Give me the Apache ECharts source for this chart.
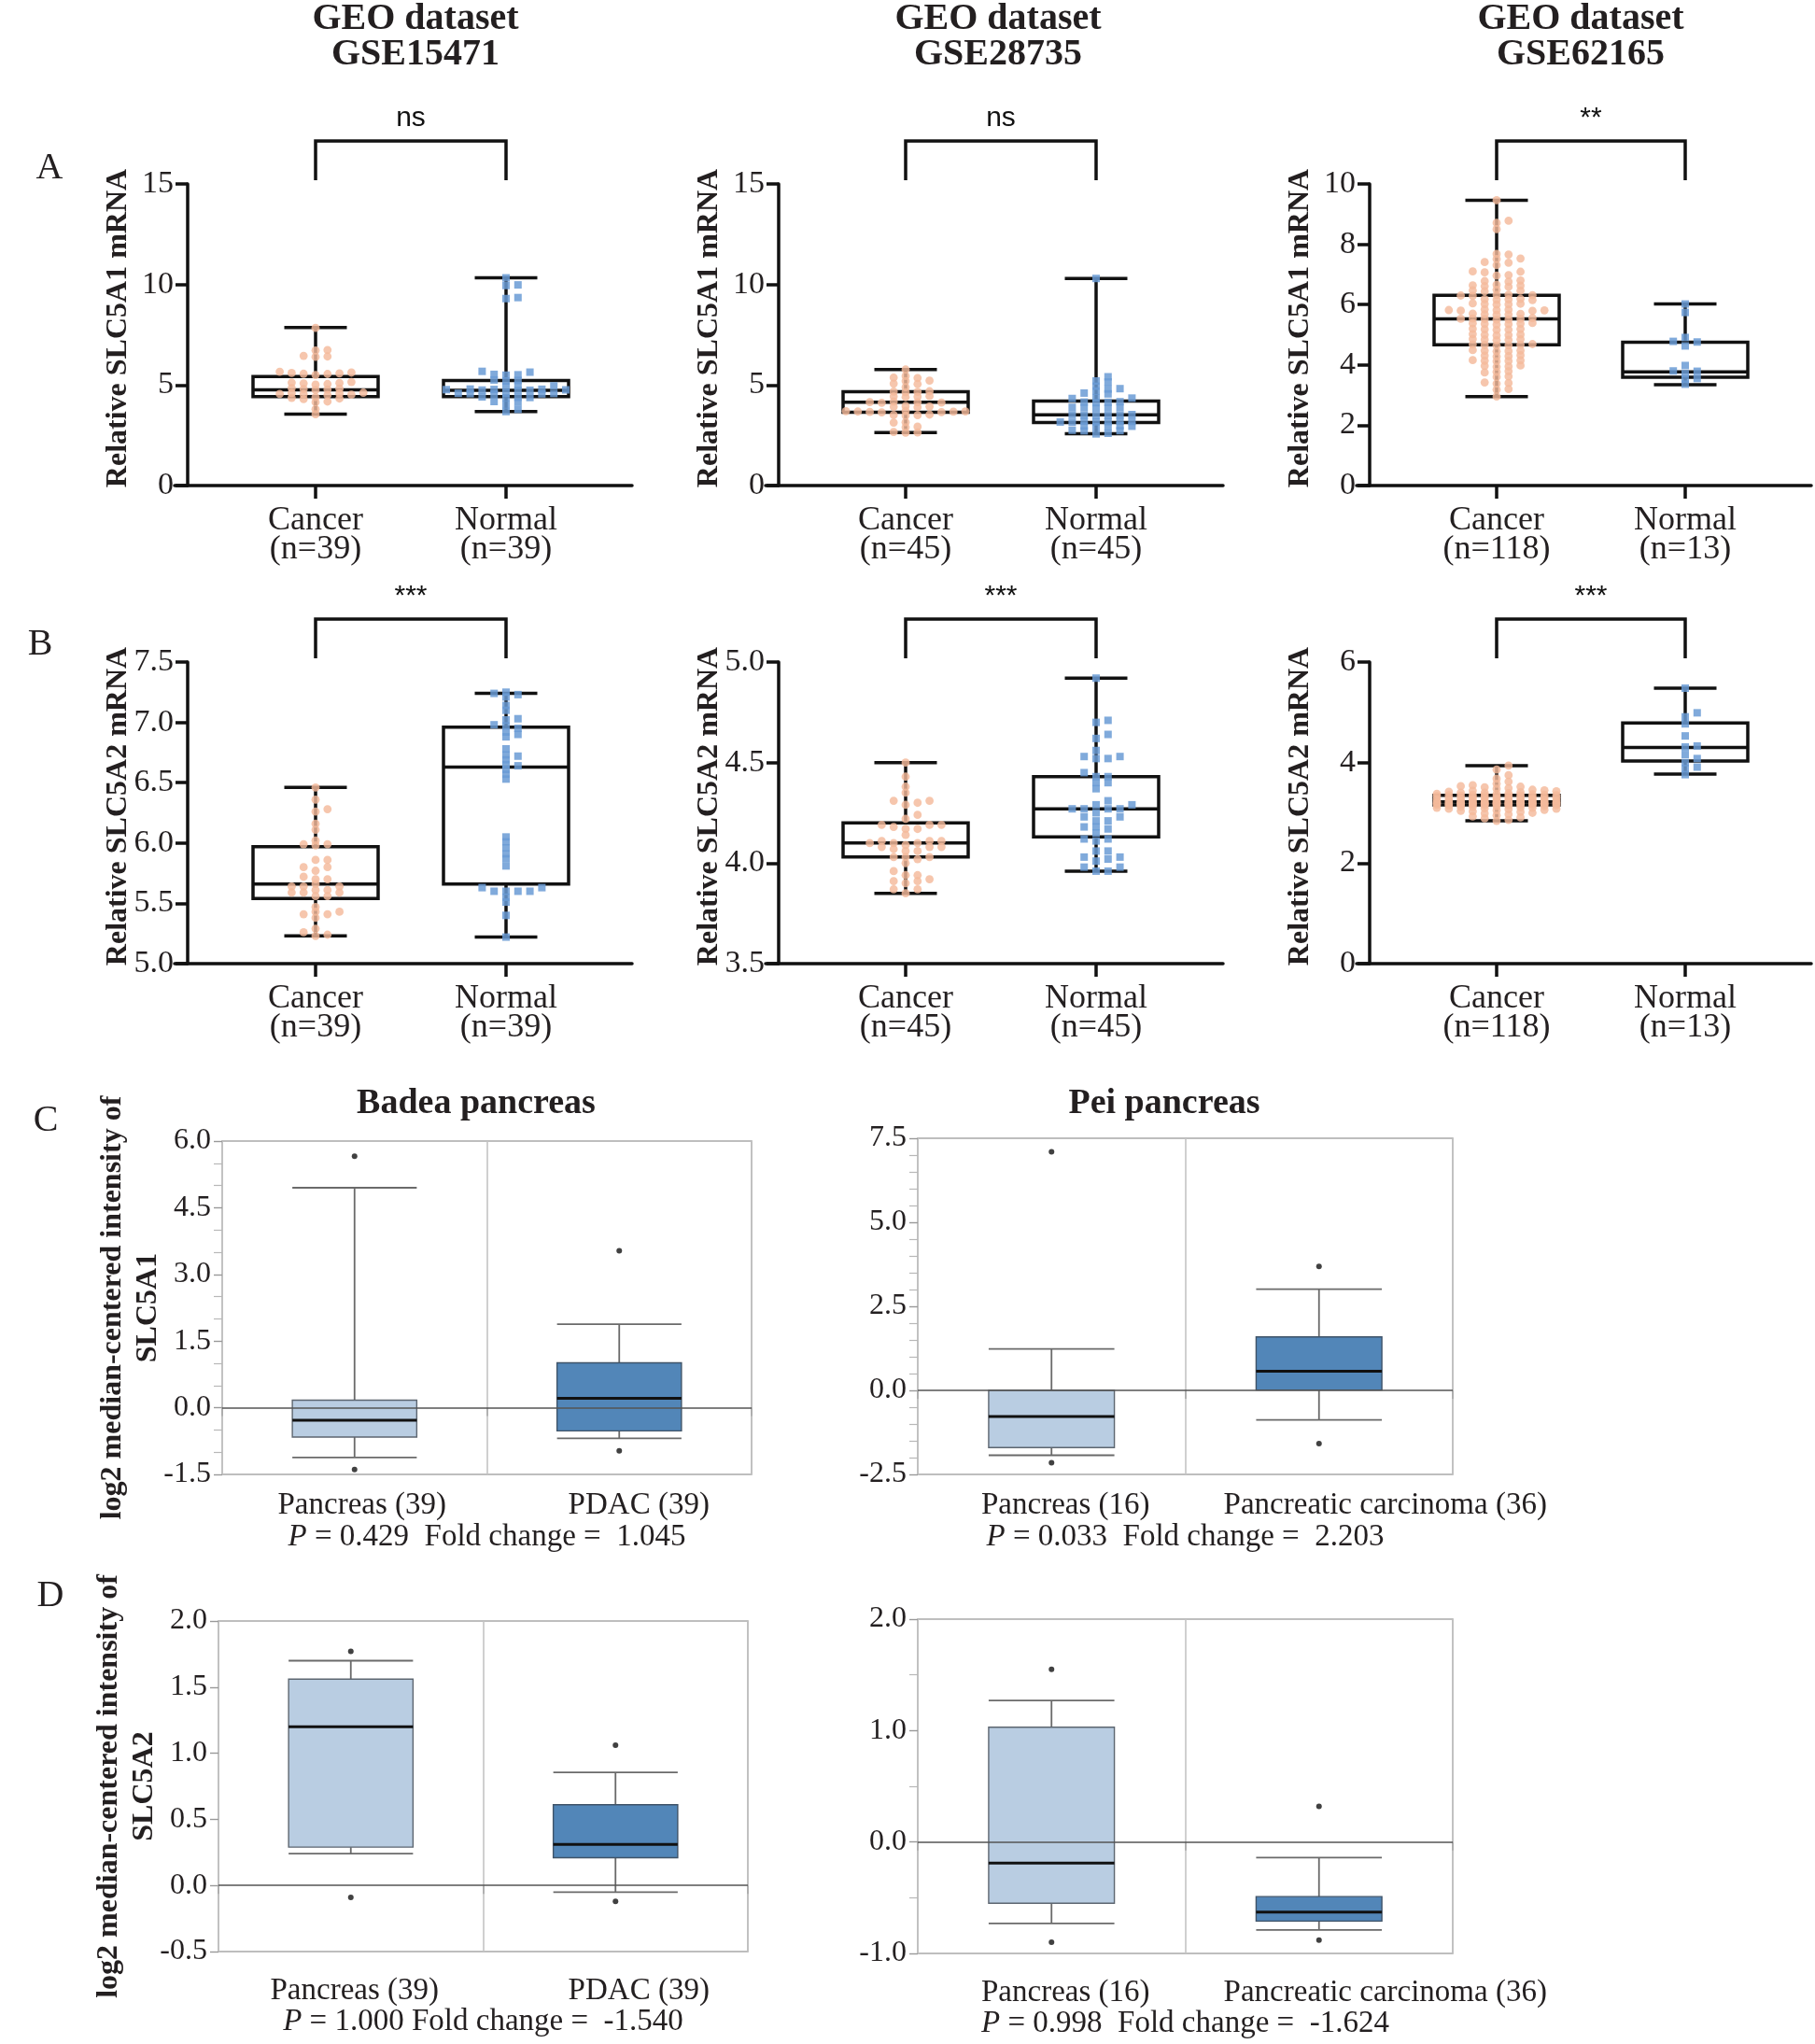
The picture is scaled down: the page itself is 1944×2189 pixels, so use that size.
<!DOCTYPE html>
<html>
<head>
<meta charset="utf-8">
<script src="https://cdn.jsdelivr.net/npm/echarts@6/dist/echarts.min.js"></script>
<style>
html,body{margin:0;padding:0;background:#fff;}
#chart{width:1944px;height:2189px;}
</style>
</head>
<body>
<div id="chart"></div>
<script>
// ---------------- DATA ----------------
const datasets = ['GSE15471', 'GSE28735', 'GSE62165'];
const groups = ['Cancer', 'Normal'];
const groupCounts = [[39, 39], [45, 45], [118, 13]];
const geneNames = ['SLC5A1', 'SLC5A2'];
const sigA = ['ns', 'ns', '**'];
const sigB = ['***', '***', '***'];

// Row A: SLC5A1 (GEO)
const a1Cancer = [7.84, 6.74, 6.72, 6.45, 6.42, 6.40, 5.66, 5.62, 5.60, 5.58, 5.56, 5.55, 5.50, 5.15, 5.12, 5.10, 5.08, 5.05, 5.02, 4.85, 4.82, 4.80, 4.78, 4.75, 4.62, 4.60, 4.58, 4.56, 4.55, 4.52, 4.50, 4.40, 4.36, 4.33, 4.30, 4.18, 4.15, 3.80, 3.55];
const a1Normal = [10.33, 9.98, 9.95, 9.35, 9.30, 5.68, 5.64, 5.53, 5.51, 5.49, 5.25, 5.23, 5.20, 4.98, 4.96, 4.93, 4.80, 4.79, 4.78, 4.77, 4.76, 4.75, 4.74, 4.73, 4.60, 4.59, 4.58, 4.57, 4.56, 4.55, 4.41, 4.39, 4.38, 4.36, 4.18, 4.15, 4.02, 3.79, 3.68];
const a1CancerBox = [3.55, 4.42, 4.76, 5.42, 7.86];
const a1NormalBox = [3.68, 4.42, 4.74, 5.22, 10.33];

const a2Cancer = [5.77, 5.45, 5.37, 5.35, 5.22, 5.20, 5.07, 5.05, 4.89, 4.69, 4.67, 4.66, 4.64, 4.45, 4.43, 4.42, 4.40, 4.17, 4.15, 4.14, 4.13, 4.12, 3.95, 3.93, 3.92, 3.90, 3.71, 3.70, 3.69, 3.68, 3.67, 3.66, 3.65, 3.64, 3.53, 3.51, 3.50, 3.48, 3.15, 3.13, 2.93, 2.90, 2.66, 2.64, 2.63];
const a2Normal = [10.30, 5.41, 5.20, 5.15, 4.94, 4.82, 4.80, 4.70, 4.60, 4.56, 4.37, 4.35, 4.33, 4.17, 4.15, 4.14, 4.12, 3.89, 3.88, 3.87, 3.86, 3.85, 3.53, 3.52, 3.51, 3.50, 3.49, 3.48, 3.21, 3.20, 3.19, 3.18, 3.17, 3.16, 3.15, 2.97, 2.96, 2.95, 2.94, 2.93, 2.75, 2.73, 2.72, 2.60, 2.57];
const a2CancerBox = [2.64, 3.65, 4.15, 4.67, 5.77];
const a2NormalBox = [2.58, 3.14, 3.52, 4.20, 10.30];

const a3Cancer = [9.46, 8.78, 8.71, 8.50, 7.68, 7.66, 7.53, 7.51, 7.41, 7.39, 7.31, 7.10, 7.09, 7.07,
  6.98, 6.96, 6.80, 6.78, 6.76, 6.66, 6.64, 6.63, 6.61, 6.59, 6.49, 6.47, 6.46, 6.44,
  6.33, 6.32, 6.31, 6.30, 6.29, 6.19, 6.18, 6.17, 6.16, 6.15, 6.04, 6.03, 6.02, 6.01, 6.00,
  5.84, 5.83, 5.82, 5.82, 5.81, 5.80, 5.79, 5.70, 5.69, 5.68, 5.67, 5.66,
  5.55, 5.54, 5.53, 5.53, 5.52, 5.51, 5.50, 5.39, 5.38, 5.37, 5.36, 5.35, 5.34,
  5.20, 5.19, 5.18, 5.17, 5.16, 5.02, 5.01, 5.00, 4.99, 4.98, 4.86, 4.85, 4.84, 4.83, 4.82,
  4.69, 4.68, 4.67, 4.66, 4.65, 4.64, 4.49, 4.48, 4.47, 4.46, 4.45, 4.32, 4.31, 4.29, 4.28,
  4.16, 4.15, 4.14, 4.13, 4.12, 3.98, 3.97, 3.95, 3.94, 3.79, 3.77, 3.75, 3.62, 3.60,
  3.42, 3.40, 3.38, 3.20, 3.18, 2.95];
const a3Normal = [6.02, 5.74, 4.91, 4.78, 4.76, 4.63, 3.98, 3.80, 3.79, 3.71, 3.55, 3.53, 3.36];
const a3CancerBox = [2.95, 4.67, 5.53, 6.31, 9.46];
const a3NormalBox = [3.34, 3.59, 3.77, 4.75, 6.02];

// Row B: SLC5A2 (GEO)
const b1Cancer = [6.46, 6.36, 6.28, 6.26, 6.16, 6.11, 6.02, 5.99, 5.99, 5.98, 5.86, 5.86, 5.80, 5.80, 5.77, 5.72, 5.70, 5.70, 5.66, 5.64, 5.64, 5.64, 5.61, 5.61, 5.59, 5.59, 5.59, 5.56, 5.56, 5.47, 5.43, 5.43, 5.41, 5.41, 5.38, 5.29, 5.26, 5.24, 5.23];
const b1Normal = [7.25, 7.24, 7.23, 7.21, 7.14, 7.10, 7.03, 7.02, 6.98, 6.97, 6.95, 6.92, 6.90, 6.88, 6.78, 6.73, 6.72, 6.69, 6.65, 6.64, 6.61, 6.57, 6.53,
  6.05, 6.01, 5.96, 5.91, 5.87, 5.81, 5.63, 5.63, 5.60, 5.60, 5.60, 5.60, 5.55, 5.51, 5.40, 5.22];
const b1CancerBox = [5.23, 5.54, 5.66, 5.97, 6.46];
const b1NormalBox = [5.22, 5.66, 6.63, 6.96, 7.24];

const b2Cancer = [4.50, 4.43, 4.38, 4.35, 4.31, 4.31, 4.30, 4.29, 4.24, 4.22, 4.19, 4.19, 4.19, 4.18, 4.17, 4.17, 4.14, 4.11, 4.11, 4.11, 4.10, 4.10, 4.10, 4.09, 4.08, 4.08, 4.08, 4.07, 4.06, 4.06, 4.03, 4.03, 4.03, 4.02, 4.00, 3.96, 3.94, 3.94, 3.92, 3.91, 3.91, 3.90, 3.87, 3.87, 3.85];
const b2Normal = [4.92, 4.71, 4.70, 4.64, 4.62, 4.56, 4.53, 4.53, 4.52, 4.52, 4.45, 4.43, 4.43, 4.40, 4.40, 4.37, 4.31, 4.29, 4.29, 4.27, 4.27, 4.27, 4.27, 4.25, 4.23, 4.23, 4.21, 4.21, 4.18, 4.18, 4.17, 4.15, 4.12, 4.12, 4.11, 4.06, 4.06, 4.03, 4.03, 4.02, 4.01, 3.98, 3.98, 3.96, 3.96];
const b2CancerBox = [3.85, 4.03, 4.10, 4.20, 4.50];
const b2NormalBox = [3.96, 4.13, 4.27, 4.43, 4.92];

const b3Cancer = [3.94, 3.86, 3.75, 3.68, 3.62, 3.58, 3.55, 3.53, 3.52, 3.51,
  3.49, 3.48, 3.46, 3.45, 3.44, 3.43, 3.42, 3.41, 3.40, 3.40,
  3.39, 3.38, 3.38, 3.37, 3.36, 3.36, 3.35, 3.35, 3.35, 3.35,
  3.34, 3.34, 3.33, 3.33, 3.32, 3.32, 3.31, 3.31, 3.30, 3.30,
  3.29, 3.29, 3.28, 3.28, 3.27, 3.27, 3.27, 3.26, 3.26, 3.25,
  3.25, 3.25, 3.24, 3.24, 3.23, 3.23, 3.23, 3.22, 3.22, 3.22,
  3.21, 3.21, 3.21, 3.21, 3.20, 3.20, 3.20, 3.20, 3.20, 3.19,
  3.19, 3.19, 3.19, 3.19, 3.18, 3.18, 3.18, 3.18, 3.18, 3.17,
  3.17, 3.17, 3.17, 3.17, 3.16, 3.16, 3.16, 3.16, 3.16, 3.15,
  3.15, 3.14, 3.14, 3.13, 3.13, 3.12, 3.12, 3.11, 3.10, 3.10,
  3.09, 3.08, 3.08, 3.07, 3.06, 3.05, 3.04, 3.03, 3.02, 3.00,
  2.99, 2.97, 2.95, 2.93, 2.91, 2.89, 2.86, 2.84];
const b3Normal = [5.48, 4.99, 4.91, 4.77, 4.53, 4.33, 4.31, 4.16, 4.08, 4.00, 3.91, 3.88, 3.76];
const b3CancerBox = [2.84, 3.16, 3.22, 3.35, 3.94];
const b3NormalBox = [3.77, 4.03, 4.30, 4.79, 5.48];

// y-axis ranges [min, max, interval]
const rangesA = [[0, 15, 5], [0, 15, 5], [0, 10, 2]];
const rangesB = [[5, 7.5, 0.5], [3.5, 5, 0.5], [0, 6, 2]];

// Rows C / D: Oncomine (box: [min, Q1, median, Q3, max])
const oncoTitles = ['Badea pancreas', 'Pei pancreas'];
const badeaLabels = ['Pancreas (39)', 'PDAC (39)'];
const peiLabels = ['Pancreas (16)', 'Pancreatic carcinoma (36)'];
const c1Pancreas = [-1.12, -0.66, -0.28, 0.17, 4.95];
const c1PancreasOut = [5.66, -1.39];
const c1Pdac = [-0.69, -0.52, 0.21, 1.01, 1.88];
const c1PdacOut = [3.53, -0.97];
const c2Pancreas = [-1.93, -1.70, -0.78, 0.00, 1.23];
const c2PancreasOut = [7.10, -2.15];
const c2Carcinoma = [-0.88, 0.01, 0.57, 1.59, 3.01];
const c2CarcinomaOut = [3.69, -1.58];
const d1Pancreas = [0.24, 0.29, 1.20, 1.56, 1.70];
const d1PancreasOut = [1.77, -0.09];
const d1Pdac = [-0.05, 0.21, 0.31, 0.61, 0.855];
const d1PdacOut = [1.06, -0.12];
const d2Pancreas = [-0.73, -0.55, -0.19, 1.03, 1.27];
const d2PancreasOut = [1.55, -0.90];
const d2Carcinoma = [-0.79, -0.71, -0.63, -0.49, -0.14];
const d2CarcinomaOut = [0.32, -0.88];
const statC1 = ['0.429', '1.045', '  '];
const statC2 = ['0.033', '2.203', '  '];
const statD1 = ['1.000', '-1.540', ' '];
const statD2 = ['0.998', '-1.624', '  '];

// ---------------- STYLE / LAYOUT ----------------
const SERIF = "'Liberation Serif', 'Times New Roman', serif";
const SANS = "'Liberation Sans', Arial, sans-serif";
const INK = '#231f20';
const CANCER_COLOR = '#f4b99b';
const NORMAL_COLOR = '#6a9bd5';

const colX = [
  {axis: 201, c1: 338, c2: 542, right: 677},
  {axis: 834, c1: 970, c2: 1174, right: 1310},
  {axis: 1467, c1: 1603, c2: 1805, right: 1940}
];
const rowY = [{top: 197, bottom: 520}, {top: 709, bottom: 1032}];

function swarmOffsets(ys, d, dyTol, maxHalf) {
  const order = ys.map((_, i) => i).sort((a, b) => ys[b] - ys[a]);
  const placed = [];
  const offs = new Array(ys.length).fill(0);
  const kMax = Math.floor(maxHalf / d);
  const cands = [0];
  for (let k = 1; k <= kMax; k++) { cands.push(k * d, -k * d); }
  for (const i of order) {
    const y = ys[i];
    let best = 0, bestScore = -1;
    for (const off of cands) {
      let score = Infinity;
      for (const p of placed) {
        const s = Math.max(Math.abs(p.x - off) / d, Math.abs(p.y - y) / dyTol);
        if (s < score) score = s;
      }
      if (score >= 0.999) { best = off; bestScore = score; break; }
      if (score > bestScore) { bestScore = score; best = off; }
    }
    offs[i] = best;
    placed.push({x: best, y: y});
  }
  return offs;
}

function makeSwarm(values, xc, shape, color) {
  const cache = {offs: null};
  return function (params, api) {
    if (!cache.offs) {
      const ys = values.map(v => api.coord([xc, v])[1]);
      cache.offs = swarmOffsets(ys, 12.8, 5, 64);
    }
    const c = api.coord([xc, api.value(1)]);
    const x = c[0] + cache.offs[params.dataIndex], y = c[1];
    if (shape === 'circle') {
      return {type: 'circle', shape: {cx: x, cy: y, r: 4.4}, style: {fill: color, opacity: 0.82}};
    }
    return {type: 'rect', shape: {x: x - 4, y: y - 4, width: 8, height: 8}, style: {fill: color, opacity: 0.85}};
  };
}

function prismBox(params, api) {
  const x = api.value(0);
  const p = [1, 2, 3, 4, 5].map(i => api.coord([x, api.value(i)]));
  const cx = p[0][0], hw = 67, cw = 33.5;
  const st = {stroke: '#111', lineWidth: 3.5, fill: null};
  return {type: 'group', children: [
    {type: 'line', shape: {x1: cx, y1: p[4][1], x2: cx, y2: p[3][1]}, style: st},
    {type: 'line', shape: {x1: cx, y1: p[1][1], x2: cx, y2: p[0][1]}, style: st},
    {type: 'line', shape: {x1: cx - cw, y1: p[4][1], x2: cx + cw, y2: p[4][1]}, style: st},
    {type: 'line', shape: {x1: cx - cw, y1: p[0][1], x2: cx + cw, y2: p[0][1]}, style: st},
    {type: 'rect', shape: {x: cx - hw, y: p[3][1], width: 2 * hw, height: p[1][1] - p[3][1]}, style: st},
    {type: 'line', shape: {x1: cx - hw, y1: p[2][1], x2: cx + hw, y2: p[2][1]}, style: st}
  ]};
}

function makeBracket(text, yMax) {
  return function (params, api) {
    const a = api.coord([1, yMax]), b = api.coord([2, yMax]);
    const top = a[1] - 46, legEnd = a[1] - 4;
    const st = {stroke: '#111', lineWidth: 3.5, fill: null};
    return {type: 'group', children: [
      {type: 'polyline', shape: {points: [[a[0], legEnd], [a[0], top], [b[0], top], [b[0], legEnd]]}, style: st},
      {type: 'text', x: (a[0] + b[0]) / 2, y: top - 24, style: {text: text, fill: '#111', fontSize: 30, fontFamily: SANS,
        align: 'center', verticalAlign: 'middle', textAlign: 'center', textVerticalAlign: 'middle'}}
    ]};
  };
}

function makeOncoBox(fill, border) {
  return function (params, api) {
    const x = api.value(0);
    const p = [1, 2, 3, 4, 5].map(i => api.coord([x, api.value(i)]));
    const bw = api.size([1, 0])[0] * 0.47;
    const cx = p[0][0], hw = bw / 2;
    const ws = {stroke: '#6a6a6a', lineWidth: 1.8, fill: null};
    return {type: 'group', children: [
      {type: 'line', shape: {x1: cx, y1: p[4][1], x2: cx, y2: p[3][1]}, style: ws},
      {type: 'line', shape: {x1: cx, y1: p[1][1], x2: cx, y2: p[0][1]}, style: ws},
      {type: 'line', shape: {x1: cx - hw, y1: p[4][1], x2: cx + hw, y2: p[4][1]}, style: ws},
      {type: 'line', shape: {x1: cx - hw, y1: p[0][1], x2: cx + hw, y2: p[0][1]}, style: ws},
      {type: 'rect', shape: {x: cx - hw, y: p[3][1], width: bw, height: p[1][1] - p[3][1]}, style: {fill: fill, stroke: border, lineWidth: 1.4}},
      {type: 'line', shape: {x1: cx - hw, y1: p[2][1], x2: cx + hw, y2: p[2][1]}, style: {stroke: '#111', lineWidth: 3}}
    ]};
  };
}

// ---------------- BUILD ----------------
const option = {
  animation: false,
  backgroundColor: '#ffffff',
  textStyle: {fontFamily: SERIF, color: INK},
  grid: [], xAxis: [], yAxis: [], series: [],
  graphic: {elements: []}
};

const prismPanels = [
  {row: 0, col: 0, range: rangesA[0], cancer: a1Cancer, normal: a1Normal, cBox: a1CancerBox, nBox: a1NormalBox, sig: sigA[0]},
  {row: 0, col: 1, range: rangesA[1], cancer: a2Cancer, normal: a2Normal, cBox: a2CancerBox, nBox: a2NormalBox, sig: sigA[1]},
  {row: 0, col: 2, range: rangesA[2], cancer: a3Cancer, normal: a3Normal, cBox: a3CancerBox, nBox: a3NormalBox, sig: sigA[2]},
  {row: 1, col: 0, range: rangesB[0], cancer: b1Cancer, normal: b1Normal, cBox: b1CancerBox, nBox: b1NormalBox, sig: sigB[0]},
  {row: 1, col: 1, range: rangesB[1], cancer: b2Cancer, normal: b2Normal, cBox: b2CancerBox, nBox: b2NormalBox, sig: sigB[1]},
  {row: 1, col: 2, range: rangesB[2], cancer: b3Cancer, normal: b3Normal, cBox: b3CancerBox, nBox: b3NormalBox, sig: sigB[2]}
];

prismPanels.forEach((p, i) => {
  const L = colX[p.col], R = rowY[p.row];
  const left = L.axis - 14, unit = L.c2 - L.c1;
  const labels = groups.map((g, k) => g + '\n(n=' + groupCounts[p.col][k] + ')');
  const decimals = p.range[2] < 1;
  option.grid.push({left: left, top: R.top, width: L.right - left, height: R.bottom - R.top, outerBoundsMode: 'none', containLabel: false});
  option.xAxis.push({
    type: 'value', gridIndex: i, min: 1 - (L.c1 - left) / unit, max: 2 + (L.right - L.c2) / unit,
    axisLine: {show: true, onZero: false, lineStyle: {color: '#111', width: 3.5}},
    axisTick: {show: true, customValues: [1, 2], length: 14, lineStyle: {color: '#111', width: 3.5}},
    axisLabel: {show: true, customValues: [1, 2], formatter: v => labels[Math.round(v) - 1],
      fontSize: 36, lineHeight: 31, color: INK, margin: 22, fontFamily: SERIF},
    splitLine: {show: false}
  });
  option.yAxis.push({
    type: 'value', gridIndex: i, min: p.range[0], max: p.range[1], interval: p.range[2], offset: -14,
    axisLine: {show: true, lineStyle: {color: '#111', width: 3.5}},
    axisTick: {show: true, length: 13, lineStyle: {color: '#111', width: 3.5}},
    axisLabel: {fontSize: 34, margin: 15, color: INK, fontFamily: SERIF,
      formatter: v => decimals ? v.toFixed(1) : String(v)},
    splitLine: {show: false},
    name: 'Relative ' + geneNames[p.row] + ' mRNA', nameLocation: 'middle', nameGap: 58, nameRotate: 90,
    nameMoveOverlap: false,
    nameTextStyle: {fontSize: 32, fontWeight: 'bold', color: INK, fontFamily: SERIF, padding: [0, 0, 0, 14]}
  });
  option.series.push({
    type: 'custom', xAxisIndex: i, yAxisIndex: i, renderItem: prismBox, clip: false, silent: true, z: 2,
    data: [[1].concat(p.cBox), [2].concat(p.nBox)], encode: {x: 0, y: [1, 2, 3, 4, 5]}
  });
  option.series.push({
    type: 'custom', xAxisIndex: i, yAxisIndex: i, renderItem: makeSwarm(p.cancer, 1, 'circle', CANCER_COLOR),
    clip: false, silent: true, z: 4, data: p.cancer.map(v => [1, v]), encode: {x: 0, y: 1}
  });
  option.series.push({
    type: 'custom', xAxisIndex: i, yAxisIndex: i, renderItem: makeSwarm(p.normal, 2, 'rect', NORMAL_COLOR),
    clip: false, silent: true, z: 4, data: p.normal.map(v => [2, v]), encode: {x: 0, y: 1}
  });
  option.series.push({
    type: 'custom', xAxisIndex: i, yAxisIndex: i, renderItem: makeBracket(p.sig, p.range[1]),
    clip: false, silent: true, z: 5, data: [[1.5, p.range[1]]], encode: {x: 0, y: 1}
  });
});

const oncoPanels = [
  {rect: {left: 238, top: 1222, width: 567, height: 357}, range: [-1.5, 6, 1.5], minor: 3, labels: badeaLabels, pad: [16, 42],
   stat: statC1, boxes: [c1Pancreas, c1Pdac], outs: [c1PancreasOut, c1PdacOut], gene: 'SLC5A1', yTitle: true, lm: 17, ng: 51},
  {rect: {left: 983, top: 1219, width: 573, height: 360}, range: [-2.5, 7.5, 2.5], minor: 5, labels: peiLabels, pad: [30, 142],
   stat: statC2, boxes: [c2Pancreas, c2Carcinoma], outs: [c2PancreasOut, c2CarcinomaOut], gene: 'SLC5A1', yTitle: false, lm: 17, ng: 51},
  {rect: {left: 234, top: 1736, width: 567, height: 354}, range: [-0.5, 2, 0.5], minor: 0, labels: badeaLabels, pad: [8, 50],
   stat: statD1, boxes: [d1Pancreas, d1Pdac], outs: [d1PancreasOut, d1PdacOut], gene: 'SLC5A2', yTitle: true, lm: 26, ng: 59},
  {rect: {left: 983, top: 1734, width: 573, height: 358}, range: [-1, 2, 1], minor: 2, labels: peiLabels, pad: [30, 142],
   stat: statD2, boxes: [d2Pancreas, d2Carcinoma], outs: [d2PancreasOut, d2CarcinomaOut], gene: 'SLC5A2', yTitle: false, lm: 26, ng: 59}
];

oncoPanels.forEach((o, j) => {
  const gi = prismPanels.length + j;
  option.grid.push(Object.assign({show: true, borderColor: '#a9a9a9', borderWidth: 1.6, backgroundColor: 'transparent',
    outerBoundsMode: 'none', containLabel: false}, o.rect));
  const rich = {};
  o.pad.forEach((pd, k) => { rich['o' + k] = {fontSize: 33, fontFamily: SERIF, color: INK, padding: [0, 0, 0, pd]}; });
  option.xAxis.push({
    type: 'category', gridIndex: gi, data: o.labels, boundaryGap: true,
    axisLine: {show: false},
    axisTick: {show: true, length: 9, lineStyle: {color: '#a9a9a9', width: 1.6}},
    axisLabel: {show: true, margin: o.lm, interval: 0, formatter: (v, idx) => '{o' + idx + '|' + v + '}', rich: rich},
    splitLine: {show: true, lineStyle: {color: '#c4c4c4', width: 1.6}},
    name: '{i|P} = ' + o.stat[0] + o.stat[2] + 'Fold change =  ' + o.stat[1],
    nameLocation: 'middle', nameGap: o.ng, nameMoveOverlap: false,
    nameTextStyle: {fontSize: 33, fontFamily: SERIF, color: INK,
      rich: {i: {fontSize: 33, fontFamily: SERIF, fontStyle: 'italic', color: INK}}}
  });
  const yAx = {
    type: 'value', gridIndex: gi, min: o.range[0], max: o.range[1], interval: o.range[2],
    axisLine: {show: false},
    axisTick: {show: true, length: 9, lineStyle: {color: '#999', width: 1.4}},
    minorTick: {show: o.minor > 0, splitNumber: o.minor || 2, length: 9, lineStyle: {color: '#b8b8b8', width: 1.2}},
    axisLabel: {fontSize: 32, margin: 12, color: INK, fontFamily: SERIF, formatter: v => v.toFixed(1)},
    splitLine: {show: false}
  };
  if (o.yTitle) {
    Object.assign(yAx, {name: 'log2 median-centered intensity of\n' + o.gene, nameLocation: 'middle', nameGap: 60,
      nameRotate: 90, nameMoveOverlap: false,
      nameTextStyle: {fontSize: 32, fontWeight: 'bold', lineHeight: 38, color: INK, fontFamily: SERIF}});
  }
  option.yAxis.push(yAx);
  option.series.push({
    type: 'custom', xAxisIndex: gi, yAxisIndex: gi, clip: false, silent: true, z: 2,
    renderItem: function (params, api) {
      return params.dataIndex === 0 ? makeOncoBox('#b9cde2', '#5d6670')(params, api)
                                    : makeOncoBox('#5286b8', '#3f5368')(params, api);
    },
    data: o.boxes.map((b, k) => [k].concat(b)), encode: {x: 0, y: [1, 2, 3, 4, 5]}
  });
  const outData = [];
  o.outs.forEach((arr, k) => arr.forEach(v => outData.push([k, v])));
  option.series.push({
    type: 'scatter', xAxisIndex: gi, yAxisIndex: gi, symbol: 'circle', symbolSize: 6, z: 6, silent: true,
    itemStyle: {color: '#111'}, data: outData,
    markLine: {silent: true, symbol: ['none', 'none'], animation: false, label: {show: false},
      lineStyle: {color: '#555', width: 1.6, type: 'solid'}, data: [{yAxis: 0}]}
  });
});

// Text headings (titles and panel letters)
const titleX = [445, 1069, 1693];
datasets.forEach((d, j) => {
  option.graphic.elements.push({type: 'text', x: titleX[j], y: 40, silent: true,
    style: {text: 'GEO dataset\n' + d, fontSize: 40, fontWeight: 'bold', fontFamily: SERIF, fill: INK, lineHeight: 38,
      align: 'center', verticalAlign: 'middle', textAlign: 'center', textVerticalAlign: 'middle'}});
});
const oncoTitleX = [510, 1247];
oncoTitles.forEach((t, j) => {
  option.graphic.elements.push({type: 'text', x: oncoTitleX[j], y: 1182, silent: true,
    style: {text: t, fontSize: 38, fontWeight: 'bold', fontFamily: SERIF, fill: INK,
      align: 'center', verticalAlign: 'middle', textAlign: 'center', textVerticalAlign: 'middle'}});
});
const panelLetters = [['A', 53, 180], ['B', 43, 690], ['C', 49, 1200], ['D', 54, 1709]];
panelLetters.forEach(l => {
  option.graphic.elements.push({type: 'text', x: l[1], y: l[2], silent: true,
    style: {text: l[0], fontSize: 40, fontFamily: SERIF, fill: INK,
      align: 'center', verticalAlign: 'middle', textAlign: 'center', textVerticalAlign: 'middle'}});
});

const chart = echarts.init(document.getElementById('chart'), null, {renderer: 'canvas', width: 1944, height: 2189});
chart.setOption(option);
</script>
</body>
</html>
